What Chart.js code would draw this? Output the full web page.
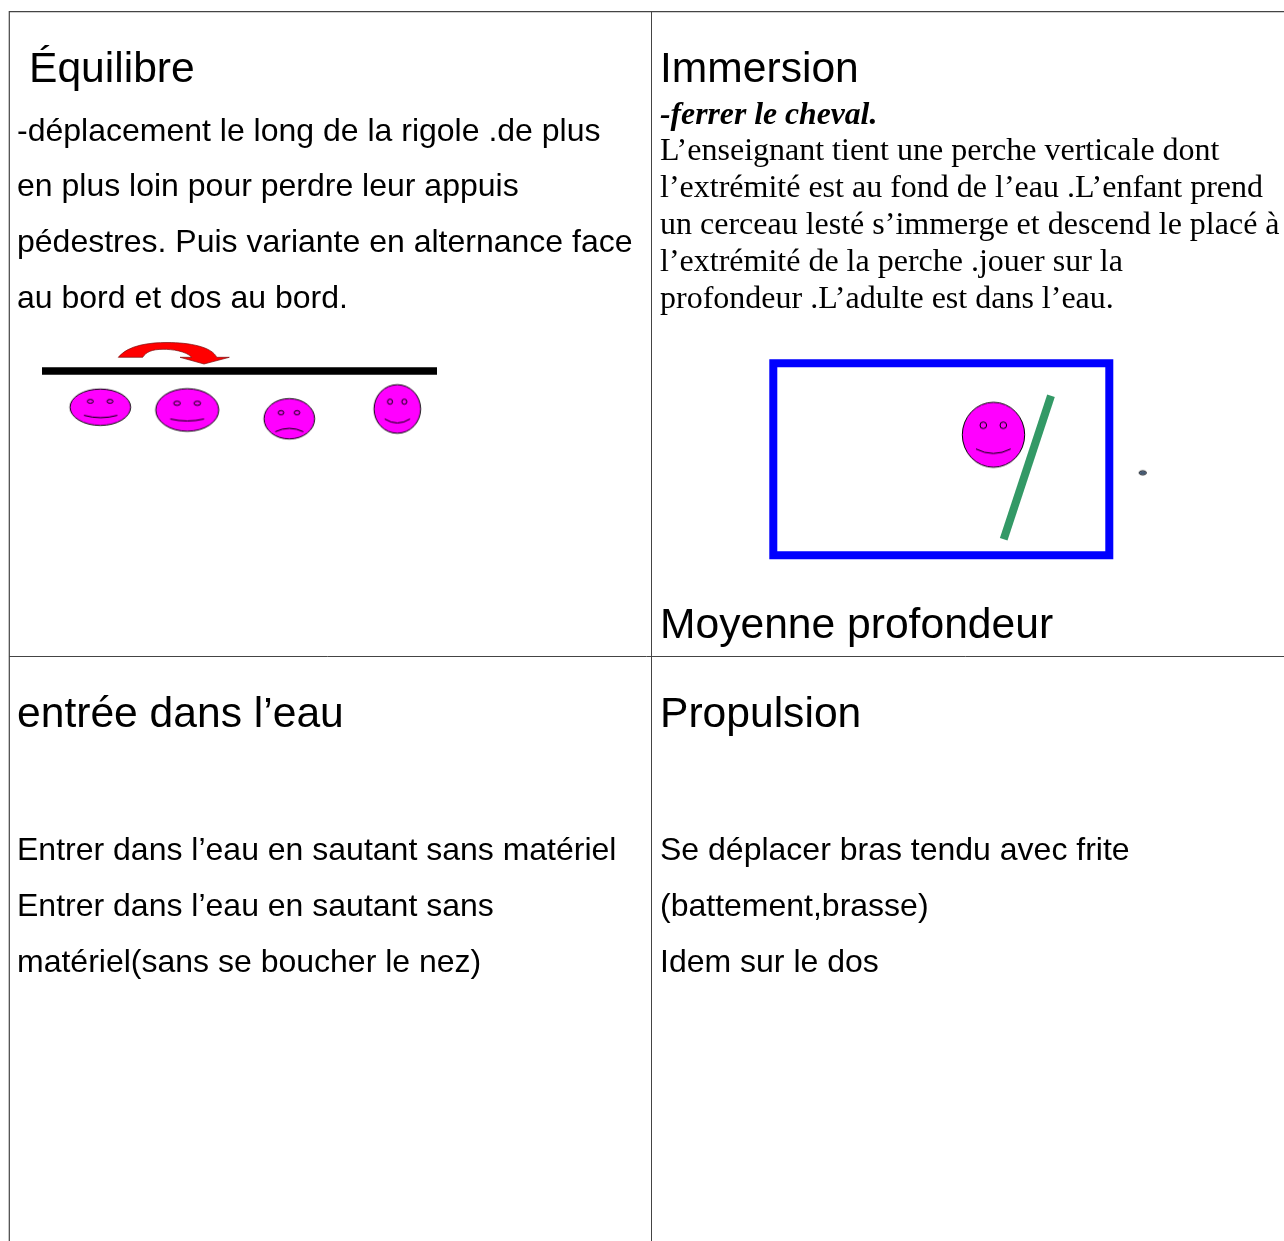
<!DOCTYPE html>
<html lang="fr"><head><meta charset="utf-8">
<style>html,body{margin:0;padding:0;background:#fff}canvas{display:block}</style>
<script src="https://cdn.jsdelivr.net/npm/chart.js@4"></script>
</head><body><canvas id="c" width="1284" height="1241"></canvas>
<script>
// ---- text content ----
const titles = ["Équilibre","Immersion","Moyenne profondeur","entrée dans l’eau","Propulsion"];
const titleX = [29,660,660,17,660];
const titleY = [82,82,638,727,727];
const sansLines = ["-déplacement le long de la rigole .de plus","en plus loin pour perdre leur appuis","pédestres. Puis variante en alternance face","au bord et dos au bord.","Entrer dans l’eau en sautant sans matériel","Entrer dans l’eau en sautant sans","matériel(sans se boucher le nez)","Se déplacer bras tendu avec frite","(battement,brasse)","Idem sur le dos"];
const sansX = [17,17,17,17,17,17,17,660,660,660];
const sansY = [141,196,252,308,860,916,972,860,916,972];
const serifLead = "-ferrer le cheval.";
const serifLines = ["L’enseignant tient une perche verticale dont","l’extrémité est au fond de l’eau .L’enfant prend","un cerceau lesté s’immerge et descend le placé à","l’extrémité de la perche .jouer sur la","profondeur .L’adulte est dans l’eau."];
const serifY = [124,160,197,234,271,308];
// ---- table rules ----
const ruleH1X = [9,1284], ruleH1Y = [11.7,11.7];
const ruleH2X = [9,1284], ruleH2Y = [656.5,656.5];
const ruleV1X = [9.3,9.3], ruleV1Y = [11,1241];
const ruleV2X = [651.5,651.5], ruleV2Y = [11,1241];
// ---- diagram marks ----
const barX = [42,437], barY = [371,371];
const poolX = [773.3,1109.3,1109.3,773.3,773.3], poolY = [363.3,363.3,555.3,555.3,363.3];
const poleX = [1051,1003.7], poleY = [395.7,539.3];
const faceX  = [100.3,187.2,289.3,397.3,993.5];
const faceY  = [407.2,410,418.8,409,434.8];
const faceRx = [30.3,31.5,25.3,23.3,31.2];
const faceRy = [18.2,21.3,20.2,24.3,32.5];
const eyeLX  = [90.3,177,281,390,983.3];
const eyeRX  = [110,197.3,297,404.3,1003.3];
const eyeY   = [401.3,403.3,412.7,401.7,425.3];
const eyeRx  = [3,3.3,2.8,2.5,3.3];
const eyeRy  = [1.9,2.1,2.1,2.6,3.3];
const mouthLX = [84,170.3,275.3,384.7,976];
const mouthRX = [117.3,204,303.3,410,1010.7];
const mouthY  = [415.3,419,431.7,419,449];
const mouthCY = [420,423,425,427,458];
const dotX = [1142.7], dotY = [472.8];
const arrowAnchorX = [174], arrowAnchorY = [353];

function sprite(cx,cy,w,h,draw){
  const s=document.createElement('canvas');s.width=w;s.height=h;
  const g=s.getContext('2d');g.translate(w/2-cx,h/2-cy);draw(g);return s;
}
const faceSprites = faceX.map((cx,i)=>sprite(cx,faceY[i],Math.ceil(faceRx[i]*2+4),Math.ceil(faceRy[i]*2+4),g=>{
  g.strokeStyle='#000';g.lineWidth=1;g.fillStyle='#ff00ff';
  g.beginPath();g.ellipse(cx,faceY[i],faceRx[i],faceRy[i],0,0,7);g.fill();g.stroke();
  [eyeLX[i],eyeRX[i]].forEach(ex=>{g.beginPath();g.ellipse(ex,eyeY[i],eyeRx[i],eyeRy[i],0,0,7);g.stroke();});
  g.beginPath();g.moveTo(mouthLX[i],mouthY[i]);g.quadraticCurveTo((mouthLX[i]+mouthRX[i])/2,mouthCY[i],mouthRX[i],mouthY[i]);g.stroke();
}));
const dotSprite = sprite(dotX[0],dotY[0],12,8,g=>{
  g.fillStyle='#7fa6d6';g.strokeStyle='#111';g.lineWidth=1;
  g.beginPath();g.ellipse(dotX[0],dotY[0],3.6,2.1,0,0,7);g.fill();g.stroke();
  g.beginPath();g.moveTo(dotX[0]-2.5,dotY[0]);g.lineTo(dotX[0]+2.5,dotY[0]);g.stroke();
});
const arrowSprite = sprite(arrowAnchorX[0],arrowAnchorY[0],124,30,g=>{
  g.fillStyle='#ff0000';g.strokeStyle='#7a1010';g.lineWidth=.7;
  g.beginPath();g.moveTo(118.3,357.3);
  g.bezierCurveTo(128,345,150,342.5,167,342.5);
  g.bezierCurveTo(190,342.5,212,347,216.7,357.3);
  g.lineTo(229.3,357.3);g.lineTo(204,364);g.lineTo(180,357.3);g.lineTo(191.7,357.3);
  g.bezierCurveTo(186,351,172,349.3,163,349.3);
  g.bezierCurveTo(152,349.3,146,352,142.7,357.3);
  g.closePath();g.fill();g.stroke();
});

const pts=(xs,ys)=>xs.map((x,i)=>({x,y:ys[i]}));
const line=(xs,ys,color,w,extra)=>Object.assign({type:'line',data:pts(xs,ys),borderColor:color,borderWidth:w,pointRadius:0,fill:false,tension:0,borderCapStyle:'butt',borderJoinStyle:'miter'},extra||{});

const textPlugin={id:'docText',afterDatasetsDraw(chart){
  const {ctx,scales:{x,y}}=chart;ctx.save();ctx.fillStyle='#000';ctx.textBaseline='alphabetic';ctx.textAlign='left';
  ctx.font='42.6px "Liberation Sans"';
  titles.forEach((t,i)=>ctx.fillText(t,x.getPixelForValue(titleX[i]),y.getPixelForValue(titleY[i])));
  ctx.font='32px "Liberation Sans"';
  sansLines.forEach((t,i)=>ctx.fillText(t,x.getPixelForValue(sansX[i]),y.getPixelForValue(sansY[i])));
  ctx.font='italic bold 31.7px "Liberation Serif"';
  ctx.fillText(serifLead,x.getPixelForValue(660),y.getPixelForValue(serifY[0]));
  ctx.font='32px "Liberation Serif"';
  serifLines.forEach((t,i)=>ctx.fillText(t,x.getPixelForValue(660),y.getPixelForValue(serifY[i+1])));
  ctx.restore();
}};

new Chart(document.getElementById('c'),{
  type:'scatter',
  data:{datasets:[
    line(ruleH1X,ruleH1Y,'#444',1.2),
    line(ruleH2X,ruleH2Y,'#444',1),
    line(ruleV1X,ruleV1Y,'#444',1.2),
    line(ruleV2X,ruleV2Y,'#444',1),
    line(barX,barY,'#000',7.6),
    line(poolX,poolY,'#0000ff',8,{borderCapStyle:'square'}),
    line(poleX,poleY,'#339966',8),
    {type:'scatter',data:pts(arrowAnchorX,arrowAnchorY),pointStyle:[arrowSprite],pointRadius:1,showLine:false},
    {type:'scatter',data:pts(faceX,faceY),pointStyle:faceSprites,pointRadius:1,showLine:false},
    {type:'scatter',data:pts(dotX,dotY),pointStyle:[dotSprite],pointRadius:1,showLine:false}
  ]},
  options:{
    responsive:false,animation:false,events:[],devicePixelRatio:1,
    layout:{padding:0,autoPadding:false},
    plugins:{legend:{display:false},title:{display:false},tooltip:{enabled:false}},
    scales:{
      x:{type:'linear',display:false,min:0,max:1284},
      y:{type:'linear',display:false,min:0,max:1241,reverse:true}
    }
  },
  plugins:[textPlugin]
});
</script></body></html>
